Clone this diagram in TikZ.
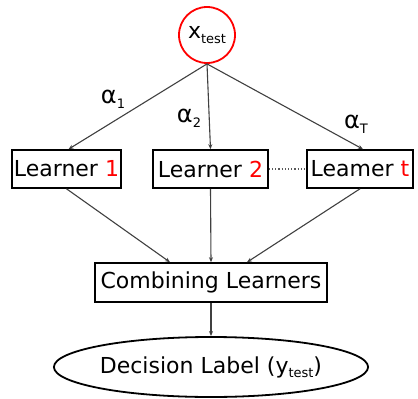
\documentclass[tikz,border=0pt]{standalone}
\usepackage{fontspec}
\setmainfont{DejaVu Sans}
\usepackage{xcolor}
\usetikzlibrary{calc,arrows.meta,shapes.geometric}

\newcommand{\subtxt}[1]{\raisebox{-0.35ex}{\fontsize{13}{13}\selectfont #1}}

\begin{document}
\begin{tikzpicture}[x=1pt,y=-1pt,
		font=\fontsize{22}{26}\selectfont,
		learnerbox/.style={draw=black,line width=1.6pt,rectangle,inner sep=1pt,minimum height=38pt},
		weight/.style={inner sep=0pt,font=\fontsize{24}{26}\selectfont},
		link/.style={draw=black!75,line width=1.1pt,-{Stealth[length=5pt,width=4pt]}}]
				\useasboundingbox (0,0) rectangle (418,399);
				
				\node[draw=red,line width=1.8pt,circle,minimum size=56pt,inner sep=0pt] (xt) at (207,35) {x\subtxt{test}};
				
				\node[learnerbox,minimum width=109pt] (l1) at (66.5,169) {Learner {\color{red}1}};
				\node[learnerbox,minimum width=115pt] (l2) at (210.5,169) {Learner {\color{red}2}};
				\node[learnerbox,minimum width=106pt] (lt) at (360,169) {Leamer {\color{red}t}};
				
				\node[learnerbox,minimum width=232pt,minimum height=39pt] (comb) at (211,282.5) {Combining Learners};
				\node[draw=black,line width=1.8pt,ellipse,minimum width=252pt,minimum height=60pt,inner sep=0pt] (dec) at (211,367) {Decision Label (y\subtxt{test})};
				
				% weights
				\node[weight] (a1) at (113,99) {α\subtxt{1}};
				\node[weight] (a2) at (189,118) {α\subtxt{2}};
				\node[weight] (aT) at (356,124) {α\subtxt{T}};
				
				\foreach \i/\dx in {l1/2,l2/0,lt/3}{
					\draw[link] (xt.south) -- ($(\i.north)+(\dx,0)$);
				}
				\foreach \i/\dx in {l1/-41,l2/0,lt/36}{
					\draw[link] (\i.south) -- ($(comb.north)+(\dx,0)$);
				}
				\draw[link] (comb.south) -- (dec.north);
				\draw[black!65,dotted,line width=1.2pt] (l2.east) -- (lt.west);
			\end{tikzpicture}
\end{document}
